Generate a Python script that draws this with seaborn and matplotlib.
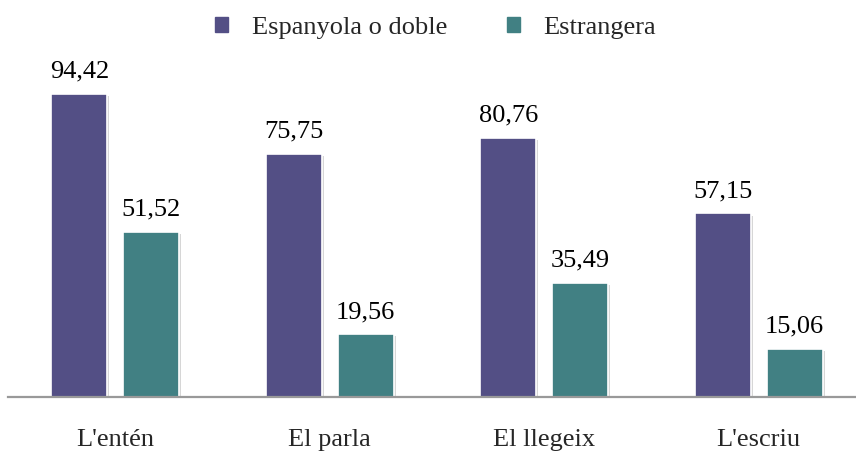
import numpy as np
import pandas as pd
import matplotlib
matplotlib.use('Agg')
import matplotlib.pyplot as plt
import matplotlib.patheffects as pe
import seaborn as sns

categories = ["L'entén", 'El parla', 'El llegeix', "L'escriu"]
series = ['Espanyola o doble', 'Estrangera']
espanyola = [94.42, 75.75, 80.76, 57.15]
estrangera = [51.52, 19.56, 35.49, 15.06]
colors = ['#534f85', '#418083']

df = pd.DataFrame({
    'cat': categories * 2,
    'serie': [series[0]] * 4 + [series[1]] * 4,
    'val': espanyola + estrangera,
})

sns.set_style('white')
plt.rcParams['font.family'] = ['Liberation Serif', 'DejaVu Serif']

fig = plt.figure(figsize=(8.56, 4.51), dpi=100)
ax = fig.add_axes([8 / 856, 0.12, 858 / 856, 0.7115])
sns.barplot(data=df, x='cat', y='val', hue='serie', palette=colors, width=0.67, gap=0.225,
            saturation=1, edgecolor='white', linewidth=1.2, ax=ax, legend=False)

# light drop shadow on the bars
for bar in ax.patches:
    bar.set_path_effects([pe.SimplePatchShadow(offset=(1.5, -1.5), shadow_rgbFace='#bbbbbb', alpha=0.6),
                          pe.Normal()])

for cont in ax.containers:
    ax.bar_label(cont, labels=[f'{v:.2f}'.replace('.', ',') for v in cont.datavalues],
                 padding=8, fontsize=19, color='black')

ax.set_ylim(0, 100)
ax.set_xlim(-0.5, 3.5)
ax.set_yticks([])
ax.set_xlabel('')
ax.set_ylabel('')
ax.tick_params(axis='x', length=0, labelsize=19, pad=23)
for s in ['top', 'right', 'left']:
    ax.spines[s].set_visible(False)
ax.spines['bottom'].set_color('#999999')
ax.spines['bottom'].set_linewidth(1.6)

handles = [plt.Rectangle((0, 0), 1, 1, color=c) for c in colors]
fig.legend(handles, series, loc='upper center', bbox_to_anchor=(0.509, 1.015), ncol=2,
           frameon=False, fontsize=19, handlelength=0.5, handleheight=0.5, columnspacing=2.25,
           handletextpad=0.9)

fig.savefig('out.png', dpi=100)
